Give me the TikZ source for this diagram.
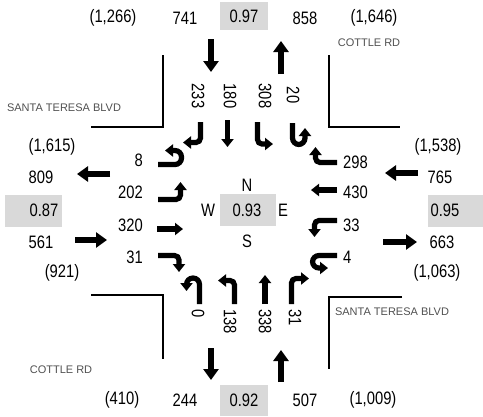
\documentclass[tikz,border=0pt]{standalone}
\usepackage{fontspec}
\setmainfont{Liberation Sans}
\newfontfamily\narrowsans[FakeStretch=0.82]{Liberation Sans}
\usetikzlibrary{arrows.meta}

\definecolor{cellgray}{HTML}{D9D9D9}
\definecolor{labelgray}{HTML}{505050}

\begin{document}
\begin{tikzpicture}[x=1pt,y=-1pt,
  num/.style={font=\narrowsans\fontsize{18}{19}\selectfont, inner sep=0pt},
  vnum/.style={num, rotate=-90},
  street/.style={font=\fontsize{11}{12}\selectfont, text=labelgray, inner sep=0pt},
  cell/.style={fill=cellgray, draw=none},
  curb/.style={line width=2pt},
  flow/.style={line width=6.5pt, -{Triangle[width=15pt,length=11pt]}},
  lane/.style={line width=5.2pt, rounded corners=4.5pt, -{Triangle[width=12pt,length=8pt]}},
  uturn/.style={lane, rounded corners=6.5pt},
]
\useasboundingbox (0,0) rectangle (483,416);

% shaded volume/PHF cells
\fill[cell] (220,2) rectangle (268,30);
\fill[cell] (220,385) rectangle (268,416);
\fill[cell] (5,195) rectangle (62,227);
\fill[cell] (428,195) rectangle (483,227);
\fill[cell] (220,194) rectangle (276,226);

% north approach totals
\node[num] (nIn)  at (113,18) {(1,266)};
\node[num] (nA)   at (185,18) {741};
\node[num] (nP)   at (244,16) {0.97};
\node[num] (nB)   at (305,18) {858};
\node[num] (nOut) at (374,18) {(1,646)};

% south approach totals
\node[num] (sIn)  at (122,400) {(410)};
\node[num] (sA)   at (185,400) {244};
\node[num] (sP)   at (244,400) {0.92};
\node[num] (sB)   at (305,400) {507};
\node[num] (sOut) at (373,400) {(1,009)};

% west approach totals
\node[num] (wIn)  at (52,147) {(1,615)};
\node[num] (wA)   at (41,177) {809};
\node[num] (wP)   at (44,210) {0.87};
\node[num] (wB)   at (41,242) {561};
\node[num] (wOut) at (62,273) {(921)};

% east approach totals
\node[num] (eIn)  at (438,147) {(1,538)};
\node[num] (eA)   at (440,177) {765};
\node[num] (eP)   at (445,210) {0.95};
\node[num] (eB)   at (442,242) {663};
\node[num] (eOut) at (437,273) {(1,063)};

% intersection centre
\node[num] (cN) at (247,185) {N};
\node[num] (cW) at (208,210) {W};
\node[num] (cP) at (247,210) {0.93};
\node[num] (cE) at (283,210) {E};
\node[num] (cS) at (247,241) {S};

% street names
\node[street] (st1) at (369,43) {COTTLE RD};
\node[street] (st2) at (64,108) {SANTA TERESA BLVD};
\node[street] (st3) at (392,312) {SANTA TERESA BLVD};
\node[street] (st4) at (61,370) {COTTLE RD};

% curb lines
\draw[curb] (163,55) -- (163,127) -- (91,127);
\draw[curb] (329,55) -- (329,127) -- (400,127);
\draw[curb] (91,295) -- (163,295) -- (163,359);
\draw[curb] (402,297) -- (329,297) -- (329,369);

% approach / departure flows
\draw[flow] (211,39) -- (211,72);
\draw[flow] (281,74) -- (281,41);
\draw[flow] (211,348) -- (211,380);
\draw[flow] (281,382) -- (281,350);
\draw[flow] (110,174) -- (77,174);
\draw[flow] (75,240) -- (107,240);
\draw[flow] (418,173) -- (385,173);
\draw[flow] (383,242) -- (417,242);

% southbound movements
\node[vnum] (sb1) at (198,96) {233};
\node[vnum] (sb2) at (230,96) {180};
\node[vnum] (sb3) at (265,96) {308};
\node[vnum] (sb4) at (293,95) {20};
\draw[lane] (200.5,122) -- (200.5,142.5) -- (183,142.5);
\draw[lane] (227.5,120) -- (227.5,147);
\draw[lane] (257.5,122) -- (257.5,144) -- (273,144);
\draw[uturn] (292.5,123) -- (292.5,144.5) -- (305,144.5) -- (305,128);

% northbound movements
\node[vnum, anchor=west] (nb1) at (198,309) {0};
\node[vnum, anchor=west] (nb2) at (230,309) {138};
\node[vnum, anchor=west] (nb3) at (265,309) {338};
\node[vnum, anchor=west] (nb4) at (295,309) {31};
\draw[uturn] (199.5,304) -- (199.5,278) -- (186.5,278) -- (186.5,291);
\draw[lane] (234.5,304) -- (234.5,280.5) -- (218,280.5);
\draw[lane] (265,304) -- (265,275);
\draw[lane] (291.5,304) -- (291.5,278.5) -- (309,278.5);

% eastbound movements
\node[num, anchor=east] (eb1) at (143,160) {8};
\node[num, anchor=east] (eb2) at (143,192) {202};
\node[num, anchor=east] (eb3) at (143,225) {320};
\node[num, anchor=east] (eb4) at (143,257) {31};
\draw[uturn] (158,164.5) -- (181.5,164.5) -- (181.5,150.5) -- (165,150.5);
\draw[lane] (158,199.5) -- (180.5,199.5) -- (180.5,182);
\draw[lane] (157,229) -- (183,229);
\draw[lane] (158,255.5) -- (179,255.5) -- (179,272);

% westbound movements
\node[num, anchor=west] (wb1) at (343,162) {298};
\node[num, anchor=west] (wb2) at (343,192) {430};
\node[num, anchor=west] (wb3) at (343,225) {33};
\node[num, anchor=west] (wb4) at (343,257) {4};
\draw[lane] (337,162.5) -- (315.5,162.5) -- (315.5,147);
\draw[lane] (337,190) -- (311,190);
\draw[lane] (337,220.5) -- (314.5,220.5) -- (314.5,237);
\draw[uturn] (337,255.5) -- (312.5,255.5) -- (312.5,268) -- (328,268);
\end{tikzpicture}
\end{document}
